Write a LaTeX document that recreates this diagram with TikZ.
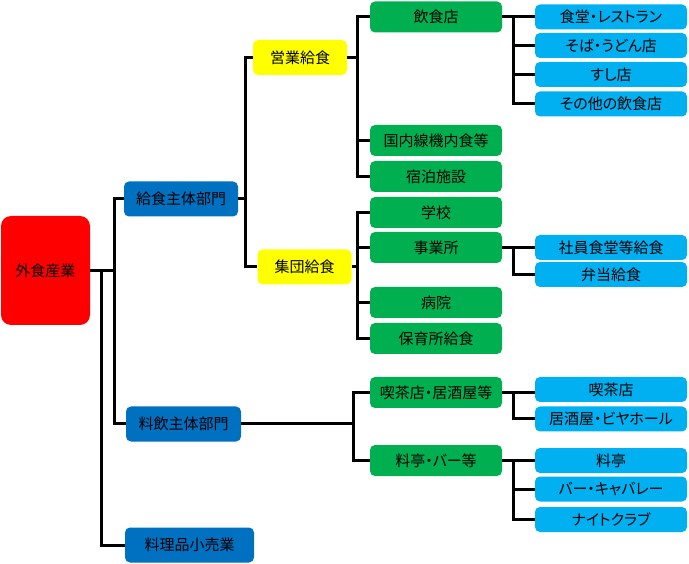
\documentclass[tikz,border=0pt]{standalone}
\usepackage{fontspec}
\newfontfamily\jpfont[RawFeature=+palt]{Noto Sans CJK JP}
\usetikzlibrary{positioning,calc}
\definecolor{rootred}{RGB}{255,0,0}
\definecolor{deptblue}{RGB}{0,112,192}
\definecolor{kyuyellow}{RGB}{255,255,0}
\definecolor{catgreen}{RGB}{0,176,80}
\definecolor{subcyan}{RGB}{0,176,240}

\begin{document}
\begin{tikzpicture}
  [x=1pt,y=-1pt,
   font=\jpfont\fontsize{15}{17}\selectfont,
   baseN/.style={inner sep=0pt,rounded corners=5pt,text=black},
   rootN/.style={baseN,fill=rootred,minimum width=89pt,minimum height=109pt,rounded corners=10pt},
   deptN/.style={baseN,fill=deptblue,minimum height=35pt},
   kyuN/.style={baseN,fill=kyuyellow,minimum width=94pt,minimum height=35pt},
   catN/.style={baseN,fill=catgreen,minimum width=132pt,minimum height=31pt},
   subN/.style={baseN,fill=subcyan,minimum width=152pt,minimum height=25pt},
   conn/.style={line width=3pt,black}]

  \useasboundingbox (0,0) rectangle (689,564);

  % root and departments
  \node[rootN] (root) at (45.5,270.5) {外食産業};
  \node[deptN,minimum width=114pt] (kyu) at (181,199) {給食主体部門};
  \node[deptN,minimum width=115pt] (ryo) at (183.5,424) {料飲主体部門};
  \node[deptN,minimum width=129pt] (kou) at (189.5,545) {料理品小売業};

  \node[kyuN] (ei)  at (300,57.5) {営業給食};
  \node[kyuN] (shu) at (304.5,267) {集団給食};

  % green categories
  \node[catN] (ins) at (436,17)    {飲食店};
  \node[catN] (kok) at (436,140.5) {国内線機内食等};
  \node[catN] (shk) at (436,176.5) {宿泊施設};
  \node[catN] (gak) at (436,212.5) {学校};
  \node[catN] (jig) at (436,247.5) {事業所};
  \node[catN] (byo) at (436,302.5) {病院};
  \node[catN] (hoi) at (436,338.5) {保育所給食};
  \node[catN] (kis) at (436,392.5) {喫茶店・居酒屋等};
  \node[catN] (ryt) at (436,460.5) {料亭・バー等};

  % cyan sub categories
  \node[subN] (sdo)  at (611,17)    {食堂・レストラン};
  \node[subN] (sob)  at (611,45.5)  {そば・うどん店};
  \node[subN] (sus)  at (611,74.5)  {すし店};
  \node[subN] (son)  at (611,104)   {その他の飲食店};
  \node[subN] (sha)  at (611,247.5) {社員食堂等給食};
  \node[subN] (ben)  at (611,274.5) {弁当給食};
  \node[subN] (kit)  at (611,389.5) {喫茶店};
  \node[subN] (izk)  at (611,419)   {居酒屋・ビヤホール};
  \node[subN] (rtei) at (611,460.5) {料亭};
  \node[subN] (bar)  at (611,489)   {バー・キャバレー};
  \node[subN] (nai)  at (611,519.5) {ナイトクラブ};

  % junctions
  \coordinate (rj1) at (101,270.5);
  \coordinate (rj2) at (114,270.5);
  \coordinate (kj)  at (245,199);
  \coordinate (ej)  at (357,57.5);
  \coordinate (sj)  at (357,267);
  \coordinate (yj)  at (353,424);
  \coordinate (tj)  at (513,0);

  \draw[conn] (root.east) -- (rj2);
  \draw[conn] (rj1) |- (kou.west);
  \draw[conn] (kyu.west) -| (rj2) |- (ryo.west);

  \draw[conn] (kyu.east) -- (kj);
  \draw[conn] (ei.west) -| (kj) |- (shu.west);

  \draw[conn] (ei.east) -- (ej);
  \draw[conn] (ins.west) -| (ej) |- (shk.west);
  \draw[conn] (kok.west) -- (kok.west -| ej);

  \draw[conn] (shu.east) -- (sj);
  \draw[conn] (gak.west) -| (sj) |- (hoi.west);
  \draw[conn] (jig.west) -- (jig.west -| sj);
  \draw[conn] (byo.west) -- (byo.west -| sj);

  \draw[conn] (ryo.east) -- (yj);
  \draw[conn] (kis.west) -| (yj) |- (ryt.west);

  \draw[conn] (ins.east) -- (sdo.west);
  \draw[conn] (ins.east -| tj) |- (son.west);
  \draw[conn] (sob.west) -- (sob.west -| tj);
  \draw[conn] (sus.west) -- (sus.west -| tj);

  \draw[conn] (jig.east) -- (sha.west);
  \draw[conn] (jig.east -| tj) |- (ben.west);

  \draw[conn] (kis.east) -- (kis.east -| kit.west);
  \draw[conn] (kis.east -| tj) |- (izk.west);

  \draw[conn] (ryt.east) -- (rtei.west);
  \draw[conn] (ryt.east -| tj) |- (nai.west);
  \draw[conn] (bar.west) -- (bar.west -| tj);

\end{tikzpicture}
\end{document}
